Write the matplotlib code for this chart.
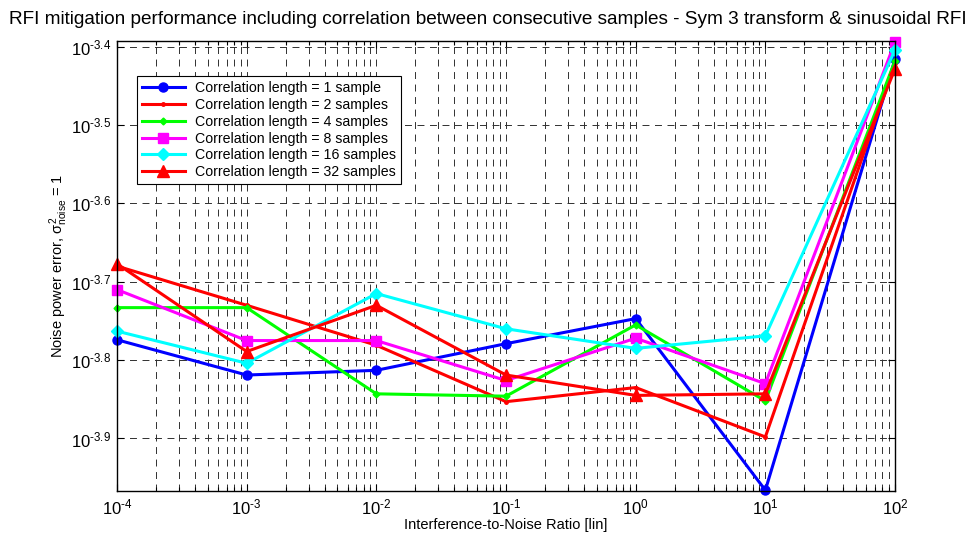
import numpy as np
import matplotlib
matplotlib.use("Agg")
import matplotlib.pyplot as plt
from matplotlib.ticker import FixedLocator, LogLocator, NullFormatter, NullLocator, FixedFormatter

plt.rcParams['font.family'] = ['Liberation Sans', 'DejaVu Sans']
plt.rcParams['mathtext.fontset'] = 'custom'
plt.rcParams['mathtext.rm'] = 'Liberation Sans'
plt.rcParams['mathtext.it'] = 'Liberation Sans'
plt.rcParams['mathtext.sf'] = 'Liberation Sans'
plt.rcParams['lines.scale_dashes'] = False
plt.rcParams['axes.unicode_minus'] = False

inr = [1e-4, 1e-3, 1e-2, 1e-1, 1e0, 1e1, 1e2]

# log10 of the noise power error
exp_1 = [-3.774, -3.819, -3.813, -3.779, -3.747, -3.966, -3.416]
exp_2 = [-3.680, -3.730, -3.781, -3.853, -3.835, -3.898, -3.421]
exp_4 = [-3.733, -3.733, -3.843, -3.846, -3.755, -3.852, -3.418]
exp_8 = [-3.710, -3.775, -3.775, -3.826, -3.772, -3.830, -3.394]
exp_16 = [-3.763, -3.804, -3.715, -3.760, -3.785, -3.769, -3.404]
exp_32 = [-3.677, -3.789, -3.730, -3.819, -3.845, -3.843, -3.428]

labels = ['Correlation length = 1 sample',
          'Correlation length = 2 samples',
          'Correlation length = 4 samples',
          'Correlation length = 8 samples',
          'Correlation length = 16 samples',
          'Correlation length = 32 samples']

ytick_exps = [-3.9, -3.8, -3.7, -3.6, -3.5, -3.4]
ytick_labels = [r'$10^{\text{-3.9}}$', r'$10^{\text{-3.8}}$', r'$10^{\text{-3.7}}$',
                r'$10^{\text{-3.6}}$', r'$10^{\text{-3.5}}$', r'$10^{\text{-3.4}}$']
xtick_labels = [r'$10^{\text{-4}}$', r'$10^{\text{-3}}$', r'$10^{\text{-2}}$', r'$10^{\text{-1}}$',
                r'$10^{0}$', r'$10^{1}$', r'$10^{2}$']

styles = [
    dict(color='#0000ff', marker='o', markersize=6.5),
    dict(color='#ff0000', marker='.', markersize=5),
    dict(color='#00ff00', marker='D', markersize=3.5),
    dict(color='#ff00ff', marker='s', markersize=6.5),
    dict(color='#00ffff', marker='D', markersize=6),
    dict(color='#ff0000', marker='^', markersize=8),
]

fig = plt.figure(figsize=(9.7, 5.33), dpi=100)
ax = fig.add_axes([0.1206, 0.0794, 0.8021, 0.8437])

series = [exp_1, exp_2, exp_4, exp_8, exp_16, exp_32]
for exps, lab, st in zip(series, labels, styles):
    vals = [10 ** e for e in exps]
    ax.plot(inr, vals, label=lab, linewidth=2.2, clip_on=False, **st)

ax.set_xscale('log')
ax.set_yscale('log')
ax.set_xlim(1e-4, 1e2)
ax.set_ylim(10 ** -3.9666, 10 ** -3.3927)

ax.yaxis.set_major_locator(FixedLocator([10 ** e for e in ytick_exps]))
ax.yaxis.set_major_formatter(FixedFormatter(ytick_labels))
ax.yaxis.set_minor_locator(NullLocator())
ax.xaxis.set_major_locator(FixedLocator(inr))
ax.xaxis.set_major_formatter(FixedFormatter(xtick_labels))
ax.xaxis.set_minor_locator(LogLocator(base=10, subs=np.arange(2, 10), numticks=20))
ax.xaxis.set_minor_formatter(NullFormatter())

ax.tick_params(which='both', direction='in', top=True, right=True, labelsize=12)
ax.tick_params(which='major', length=5, width=0.8)
ax.tick_params(which='minor', length=3, width=0.8)
ax.tick_params(axis='x', pad=5)
ax.tick_params(axis='y', pad=4)

gstyle = dict(color='#303030', linestyle=(0, (5, 4)), linewidth=0.7)
ax.grid(True, which='major', axis='both', **gstyle)
ax.grid(True, which='minor', axis='x', **gstyle)
ax.set_axisbelow(True)

for sp in ax.spines.values():
    sp.set_linewidth(1.0)

fig.text(0.503, 1 - 20 / 533,
         'RFI mitigation performance including correlation between consecutive samples - Sym 3 transform & sinusoidal RFI',
         fontsize=13.67, ha='center', va='center')
ax.set_xlabel('Interference-to-Noise Ratio [lin]', fontsize=10.5, labelpad=0)
ax.set_ylabel(r'Noise power error, $\sigma^2_{noise}$ = 1', fontsize=10.5, labelpad=1)

leg = ax.legend(loc='upper left', bbox_to_anchor=(0.026, 0.922), fontsize=10.2,
                frameon=True, fancybox=False, edgecolor='black', framealpha=1,
                handlelength=3, borderpad=0.35, labelspacing=0.2, handletextpad=0.7,
                borderaxespad=0)
leg.get_frame().set_linewidth(0.8)

fig.savefig('out.png', dpi=100)
